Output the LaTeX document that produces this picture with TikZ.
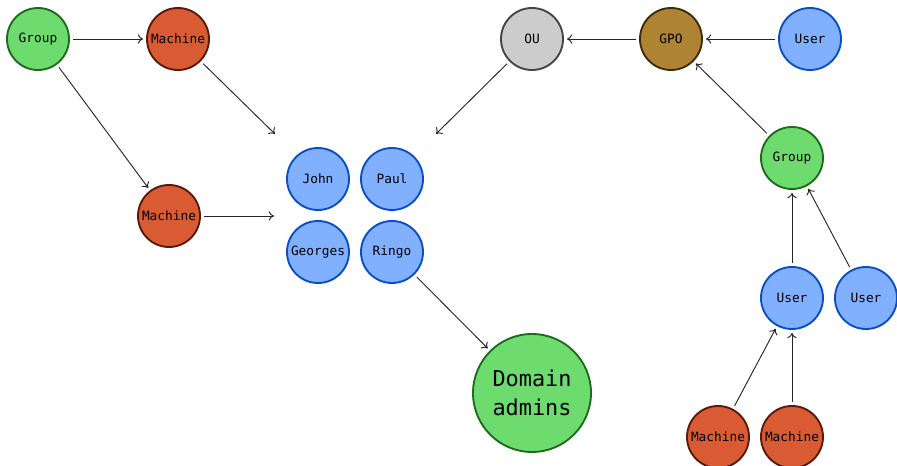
\documentclass[tikz,border=0pt]{standalone}
\usepackage{fontspec}
\setmonofont{DejaVu Sans Mono}
\usetikzlibrary{arrows.meta}
\definecolor{gfill}{HTML}{6EDB6E}
\definecolor{gdraw}{HTML}{1E6B1E}
\definecolor{mfill}{HTML}{D95B33}
\definecolor{mdraw}{HTML}{5A1A0A}
\definecolor{ufill}{HTML}{80B0FF}
\definecolor{udraw}{HTML}{0A4FC2}
\definecolor{ofill}{HTML}{CCCCCC}
\definecolor{odraw}{HTML}{444444}
\definecolor{pfill}{HTML}{AE8432}
\definecolor{pdraw}{HTML}{3D2B0A}
\tikzset{
  ent/.style={circle, inner sep=0pt, minimum size=46.5pt, line width=1.4pt,
    font=\ttfamily\fontsize{9.6}{11}\selectfont},
  grp/.style={ent, fill=gfill, draw=gdraw},
  mach/.style={ent, fill=mfill, draw=mdraw},
  usr/.style={ent, fill=ufill, draw=udraw},
  ou/.style={ent, fill=ofill, draw=odraw},
  gpo/.style={ent, fill=pfill, draw=pdraw},
  big/.style={grp, minimum size=88.5pt, align=center,
    font=\ttfamily\fontsize{16.4}{22}\selectfont},
  link/.style={-{To[length=4pt,width=7pt]}, line width=0.7pt, draw=black!85,
    shorten <=2.5pt, shorten >=2.2pt},
}
\begin{document}
\begin{tikzpicture}[x=0.75pt, y=-0.75pt]
\useasboundingbox (0,0) rectangle (897,466);
% nodes
\node[grp]  (g1) at (38,39) {Group};
\node[mach] (m1) at (178,39) {Machine};
\node[mach] (m2) at (169,216) {Machine};
\node[usr]  (john) at (318,179) {John};
\node[usr]  (paul) at (392,179) {Paul};
\node[usr]  (geo)  at (318,252) {Georges};
\node[usr]  (ringo) at (392,252) {Ringo};
\node[big]  (da) at (532,393) {Domain\\admins};
\node[ou]   (ou) at (532,39) {OU};
\node[gpo]  (gpo) at (671,39) {GPO};
\node[usr]  (u1) at (810,39) {User};
\node[grp]  (g2) at (792,158) {Group};
\node[usr]  (u2) at (792,298) {User};
\node[usr]  (u3) at (866,298) {User};
\node[mach] (m3) at (718,437) {Machine};
\node[mach] (m4) at (792,437) {Machine};
% free ends
\coordinate (c1) at (275,134);
\coordinate (c2) at (274,216);
\coordinate (c3) at (436,134);
% connectors
\draw[link] (g1) -- (m1);
\draw[link] (g1) -- (m2);
\draw[link, shorten >=0pt] (m1) -- (c1);
\draw[link, shorten >=0pt] (m2) -- (c2);
\draw[link, shorten >=0pt] (ou) -- (c3);
\draw[link] (gpo) -- (ou);
\draw[link] (u1) -- (gpo);
\draw[link] (g2) -- (gpo);
\draw[link] (u2) -- (g2);
\draw[link] (u3) -- (g2);
\draw[link] (m3) -- (u2);
\draw[link] (m4) -- (u2);
\draw[link] (ringo) -- (da);
\end{tikzpicture}
\end{document}
